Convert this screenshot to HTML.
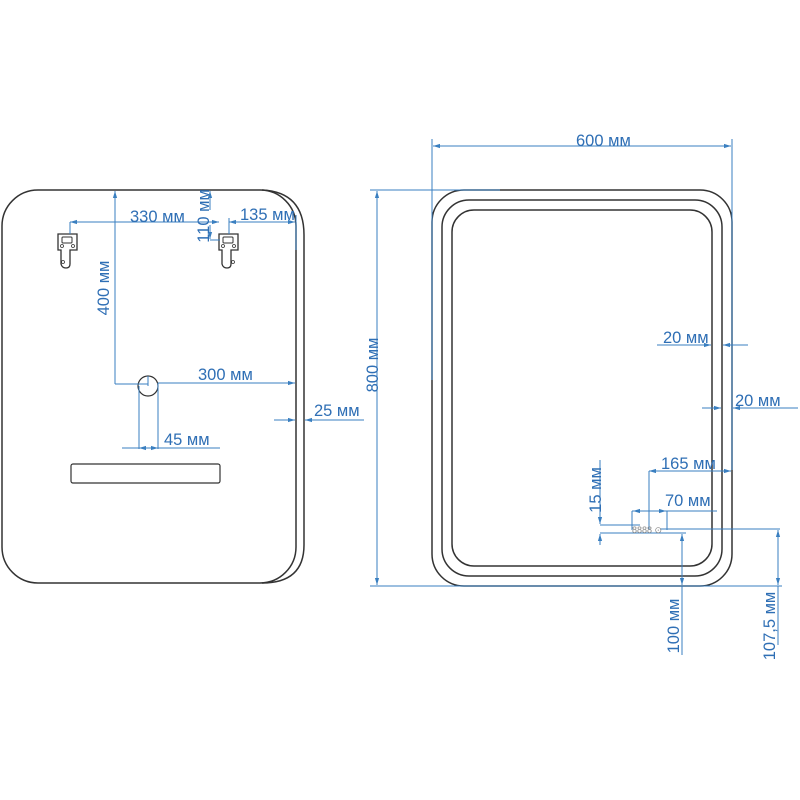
<!DOCTYPE html>
<html><head><meta charset="utf-8"><style>
html,body{margin:0;padding:0;background:#fff;width:800px;height:800px;overflow:hidden}
svg text{font-family:"Liberation Sans",sans-serif;font-size:16.5px;fill:#2f6fb5}
</style></head><body>
<svg width="800" height="800" viewBox="0 0 800 800" xmlns="http://www.w3.org/2000/svg">
<defs>
<marker id="a" viewBox="0 0 10 10" refX="10" refY="5" markerWidth="7" markerHeight="7" orient="auto-start-reverse"><path d="M0,2 L10,5 L0,8 z" fill="#3a7fc0"/></marker>
</defs>
<g fill="none" stroke="#333" stroke-width="1.5">
<rect x="2" y="190" width="294" height="393" rx="36"/>
<path d="M262,190 Q304,192 304,235 L304,545 Q304,583 262,583"/>
<path d="M58,234 h19 v16 h-7 v14 q0,4 -4,4 q-4,0 -5,-4 v-14 h-3 z" stroke-width="1.3"/>
<rect x="62" y="237" width="10" height="6" rx="1" stroke-width="1"/>
<circle cx="62" cy="246" r="1.5" stroke-width="0.8"/><circle cx="73" cy="246" r="1.5" stroke-width="0.8"/><circle cx="63" cy="262" r="1.5" stroke-width="0.8"/>
<path d="M219,234 h19 v16 h-7 v14 q0,4 -4,4 q-4,0 -5,-4 v-14 h-3 z" stroke-width="1.3"/>
<rect x="223" y="237" width="10" height="6" rx="1" stroke-width="1"/>
<circle cx="223" cy="246" r="1.5" stroke-width="0.8"/><circle cx="234" cy="246" r="1.5" stroke-width="0.8"/><circle cx="233" cy="262" r="1.5" stroke-width="0.8"/>
<circle cx="148" cy="386" r="10" stroke-width="1.2"/>
<rect x="71" y="464" width="149" height="19" rx="2" stroke-width="1.2"/>
<rect x="432" y="190" width="300" height="396" rx="32"/>
<rect x="442" y="200" width="280" height="376" rx="27"/>
<rect x="452" y="210" width="260" height="356" rx="22"/>
</g>
<g fill="none" stroke="#3a7fc0" stroke-width="1">
<line x1="115" y1="384" x2="115" y2="191" marker-end="url(#a)"/>
<line x1="115" y1="384" x2="148" y2="384"/>
<line x1="70" y1="222" x2="219" y2="222" marker-start="url(#a)" marker-end="url(#a)"/>
<line x1="70" y1="222" x2="70" y2="234"/>
<line x1="229" y1="222" x2="295" y2="222" marker-start="url(#a)" marker-end="url(#a)"/>
<line x1="229" y1="218" x2="229" y2="234"/>
<line x1="296" y1="215" x2="296" y2="250"/>
<line x1="210" y1="210" x2="210" y2="191" marker-end="url(#a)"/>
<line x1="210" y1="225" x2="210" y2="239" marker-end="url(#a)"/>
<line x1="210" y1="240" x2="220" y2="240"/>
<line x1="158" y1="383" x2="295" y2="383" marker-end="url(#a)"/>
<line x1="139" y1="386" x2="139" y2="449"/>
<line x1="158" y1="383" x2="158" y2="449"/>
<line x1="148" y1="386" x2="148" y2="376"/>
<line x1="122" y1="448" x2="220" y2="448"/>
<line x1="139" y1="448" x2="148" y2="448" marker-start="url(#a)"/>
<line x1="149" y1="448" x2="158" y2="448" marker-end="url(#a)"/>
<line x1="274" y1="420" x2="295" y2="420" marker-end="url(#a)"/>
<line x1="305" y1="420" x2="364" y2="420" marker-start="url(#a)"/>
<line x1="377" y1="191" x2="377" y2="585" marker-start="url(#a)" marker-end="url(#a)"/>
<line x1="370" y1="190" x2="500" y2="190"/>
<line x1="370" y1="586" x2="782" y2="586"/>
<line x1="433" y1="146" x2="731" y2="146" marker-start="url(#a)" marker-end="url(#a)"/>
<line x1="432" y1="139" x2="432" y2="380"/>
<line x1="732" y1="139" x2="732" y2="470"/>
<line x1="657" y1="345" x2="711" y2="345" marker-end="url(#a)"/>
<line x1="723" y1="345" x2="748" y2="345" marker-start="url(#a)"/>
<line x1="702" y1="408" x2="721" y2="408" marker-end="url(#a)"/>
<line x1="733" y1="408" x2="798" y2="408" marker-start="url(#a)"/>
<line x1="649" y1="471" x2="731" y2="471" marker-start="url(#a)" marker-end="url(#a)"/>
<line x1="649" y1="471" x2="649" y2="530"/>
<line x1="632" y1="511" x2="717" y2="511"/>
<line x1="633" y1="511" x2="666" y2="511" marker-start="url(#a)" marker-end="url(#a)"/>
<line x1="632" y1="511" x2="632" y2="530"/>
<line x1="667" y1="511" x2="667" y2="530"/>
<line x1="600" y1="460" x2="600" y2="524" marker-end="url(#a)"/>
<line x1="600" y1="534" x2="600" y2="545" marker-start="url(#a)"/>
<line x1="600" y1="525" x2="640" y2="525"/>
<line x1="600" y1="533" x2="686" y2="533"/>
<line x1="660" y1="529" x2="780" y2="529"/>
<line x1="682" y1="534" x2="682" y2="585" marker-start="url(#a)" marker-end="url(#a)"/>
<line x1="682" y1="586" x2="682" y2="655"/>
<line x1="778" y1="530" x2="778" y2="585" marker-start="url(#a)" marker-end="url(#a)"/>
<line x1="778" y1="586" x2="778" y2="645"/>
</g>
<text x="130" y="222">330 мм</text>
<text x="240" y="220">135 мм</text>
<text transform="translate(209,216) rotate(-90)" text-anchor="middle">110 мм</text>
<text transform="translate(109,288) rotate(-90)" text-anchor="middle">400 мм</text>
<text x="198" y="380">300 мм</text>
<text x="164" y="445">45 мм</text>
<text x="314" y="416">25 мм</text>
<text transform="translate(378,365) rotate(-90)" text-anchor="middle">800 мм</text>
<text x="576" y="146">600 мм</text>
<text x="663" y="343">20 мм</text>
<text x="735" y="406">20 мм</text>
<text x="661" y="469">165 мм</text>
<text x="665" y="506">70 мм</text>
<text transform="translate(601,490) rotate(-90)" text-anchor="middle">15 мм</text>
<text x="632" y="533" style="font-size:9px;fill:#888">8888 ⊙</text>
<text transform="translate(679,626) rotate(-90)" text-anchor="middle">100 мм</text>
<text transform="translate(775,626) rotate(-90)" text-anchor="middle">107,5 мм</text>
</svg>
</body></html>
